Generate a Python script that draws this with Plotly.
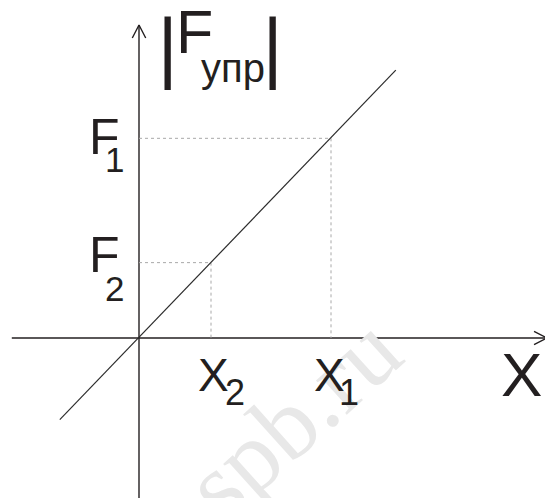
import plotly.graph_objects as go

# Hooke's law sketch: |F_upr| grows linearly with the extension X
x_marks = [1.5, 4.0]            # X2, X1
f_marks = [1.57, 4.16]          # F2, F1
x_tick_text = ["X", "X"]
x_tick_subs = ["2", "1"]
f_tick_text = ["F", "F"]
f_tick_subs = ["2", "1"]
line_x = [-1.65, 5.35]          # ends of the force line
line_f = [-1.70, 5.58]

axis_x_span = [-2.65, 8.60]
axis_y_span = [-3.35, 6.52]

INK = "#231f20"
FONT = "Liberation Sans"

fig = go.Figure()

# coordinate axes
fig.add_trace(go.Scatter(x=axis_x_span, y=[0, 0], mode="lines",
                         line=dict(color=INK, width=1.4), hoverinfo="skip"))
fig.add_trace(go.Scatter(x=[0, 0], y=axis_y_span, mode="lines",
                         line=dict(color=INK, width=1.4), hoverinfo="skip"))
# open arrow heads
ah_w, ah_l = 0.14, 0.27
tip_x = axis_x_span[1] - 0.1
fig.add_trace(go.Scatter(x=[tip_x - ah_l, tip_x, tip_x - ah_l],
                         y=[ah_w, 0, -ah_w], mode="lines",
                         line=dict(color=INK, width=1.4), hoverinfo="skip"))
tip_y = axis_y_span[1]
fig.add_trace(go.Scatter(x=[-ah_w, 0, ah_w],
                         y=[tip_y - ah_l, tip_y, tip_y - ah_l], mode="lines",
                         line=dict(color=INK, width=1.4), hoverinfo="skip"))

# dotted guides from the line to both axes
for xm, fm in zip(x_marks, f_marks):
    fig.add_trace(go.Scatter(x=[0, xm, xm], y=[fm, fm, 0], mode="lines",
                             line=dict(color="#a8a8a8", width=1, dash="dot"),
                             hoverinfo="skip"))

# the force line
fig.add_trace(go.Scatter(x=line_x, y=line_f, mode="lines",
                         line=dict(color="#2b2b2b", width=1.2), hoverinfo="skip"))

ann = []

def label(x, y, text, size, xshift=0, yshift=0, xref="x", yref="y",
          color=INK, family=FONT, angle=0):
    ann.append(dict(x=x, y=y, xref=xref, yref=yref, text=text, showarrow=False,
                    xanchor="center", yanchor="middle", xshift=xshift,
                    yshift=yshift, textangle=angle,
                    font=dict(size=size, color=color, family=family)))

# faint site mark in the background
label(292 / 545, 1 - 418 / 498, "spb.ru", 100, xref="paper", yref="paper",
      color="#e8e8e8", family="Liberation Serif", angle=-42)

# F labels on the vertical axis
for fm, t, s in zip(f_marks, f_tick_text, f_tick_subs):
    label(0, fm, t, 50, xshift=-34.5, yshift=(-3 if s == "1" else 3) + 4.5)
    label(0, fm, s, 35, xshift=-24.5, yshift=(-22.5 if s == "1" else -26.5) + 1)

# X labels under the horizontal axis
for xm, t, s in zip(x_marks, x_tick_text, x_tick_subs):
    label(xm, 0, t, 46, xshift=2.5 if s == "2" else -1.5, yshift=-40.5 + 4)
    label(xm, 0, s, 36, xshift=23.5 if s == "2" else 18, yshift=-57.5 + 3)

# axis names
label(521 / 545, 0, "X", 62, xref="paper", yshift=-41.5 + 5.5)
label(0, tip_y, "|", 87, xshift=28, yshift=-23.2, family="Roboto")
label(0, tip_y, "F", 61, xshift=55.3, yshift=-12 + 5.5)
label(0, tip_y, "упр", 40, xshift=94, yshift=-43)
label(0, tip_y, "|", 87, xshift=133, yshift=-23.2, family="Roboto")

fig.update_layout(
    width=545, height=498,
    margin=dict(l=0, r=0, t=0, b=0),
    paper_bgcolor="white", plot_bgcolor="white",
    showlegend=False,
    annotations=ann,
    xaxis=dict(range=[-139 / 48, 406 / 48], visible=False, fixedrange=True),
    yaxis=dict(range=[-160 / 48, 338 / 48], visible=False, fixedrange=True),
)

fig.write_html("out.html")
